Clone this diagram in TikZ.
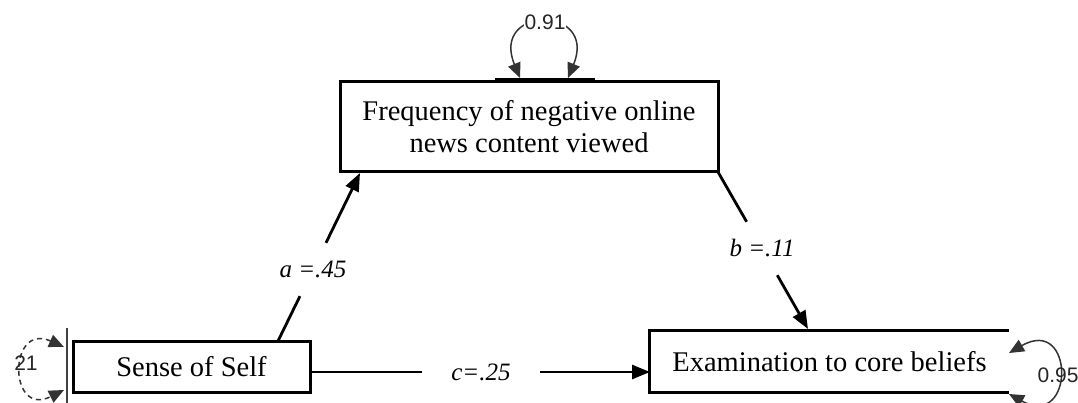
\documentclass[tikz,border=0pt]{standalone}
\usepackage{fontspec}
\setmainfont{Liberation Serif}
\newfontfamily\sansf{Liberation Sans}
\usetikzlibrary{arrows.meta}
\tikzset{
  varbox/.style={draw=black, line width=3pt, inner sep=0pt, align=center,
    font=\fontsize{28.5}{32}\selectfont},
  pathlab/.style={inner sep=0pt, font=\fontsize{25}{28}\selectfont\itshape},
  conn/.style={line width=2.8pt, -{Triangle[length=18pt,width=14pt]}},
  plain/.style={line width=2.8pt},
  loopline/.style={line width=1.5pt, draw=black!80, {Triangle[length=15pt,width=13pt]}-{Triangle[length=15pt,width=13pt]}},
  numlab/.style={inner sep=1pt, font=\fontsize{21}{23}\selectfont\sansf, text=black!85}
}
\begin{document}
\begin{tikzpicture}[x=1pt,y=-1pt]
\useasboundingbox (0,0) rectangle (1078,403);
% boxes
\node[varbox, minimum width=378pt, minimum height=90pt] (freq) at (529,127)
  {Frequency of negative online\\news content viewed};
\node[varbox, minimum width=237pt, minimum height=51pt] (self) at (191.5,366.5) {Sense of Self};
\node[inner sep=0pt, minimum width=359pt, minimum height=61pt,
  font=\fontsize{28.5}{32}\selectfont] (exam) at (829.5,361.5) {Examination to core beliefs};
\draw[line width=3pt] (exam.north east) -- (exam.north west) -- (exam.south west) -- (exam.south east);
% variance bars
\coordinate (barL) at (495,80);
\coordinate (barR) at (595,80);
\draw[line width=4pt] (barL) -- (barR);
\coordinate (vbT) at (67,328);
\coordinate (vbB) at (67,403);
\draw[line width=1.6pt, draw=black!75] (vbT) -- (vbB);
% path a
\coordinate (a1) at (278,341);
\coordinate (a2) at (360,173);
\node[pathlab, minimum width=70pt, minimum height=53pt] (alab) at (313,269.5) {a =.45};
\draw[plain] (a1) -- (alab);
\draw[conn] (alab) -- (a2);
% path b
\coordinate (b1) at (718,172);
\coordinate (b2) at (808,329);
\node[pathlab, minimum width=70pt, minimum height=53pt] (blab) at (762,248.5) {b =.11};
\draw[plain] (b1) -- (blab);
\draw[conn] (blab) -- (b2);
% path c
\coordinate (c1) at (310,372);
\coordinate (c2) at (650,372);
\node[pathlab, minimum width=118pt, minimum height=20pt] (clab) at (481,372) {c=.25};
\draw[plain] (c1) -- (clab);
\draw[conn] (clab) -- (c2);
% loops
\coordinate (t1) at (520,78);
\coordinate (t2) at (568,78);
\draw[loopline] (t1) .. controls (490,5) and (598,5) .. (t2);
\node[numlab, fill=white] (v1) at (545,22) {0.91};
\coordinate (r1) at (1009,353);
\coordinate (r2) at (1009,394);
\draw[loopline] (r1) .. controls (1075,315) and (1075,430) .. (r2);
\node[numlab] (v2) at (1058,375) {0.95};
\coordinate (l1) at (64,347);
\coordinate (l2) at (64,390);
\draw[loopline, dashed, dash pattern=on 5pt off 4pt] (l1) .. controls (8,322) and (8,418) .. (l2);
\node[numlab] (v3) at (26,363) {21};
\end{tikzpicture}
\end{document}
